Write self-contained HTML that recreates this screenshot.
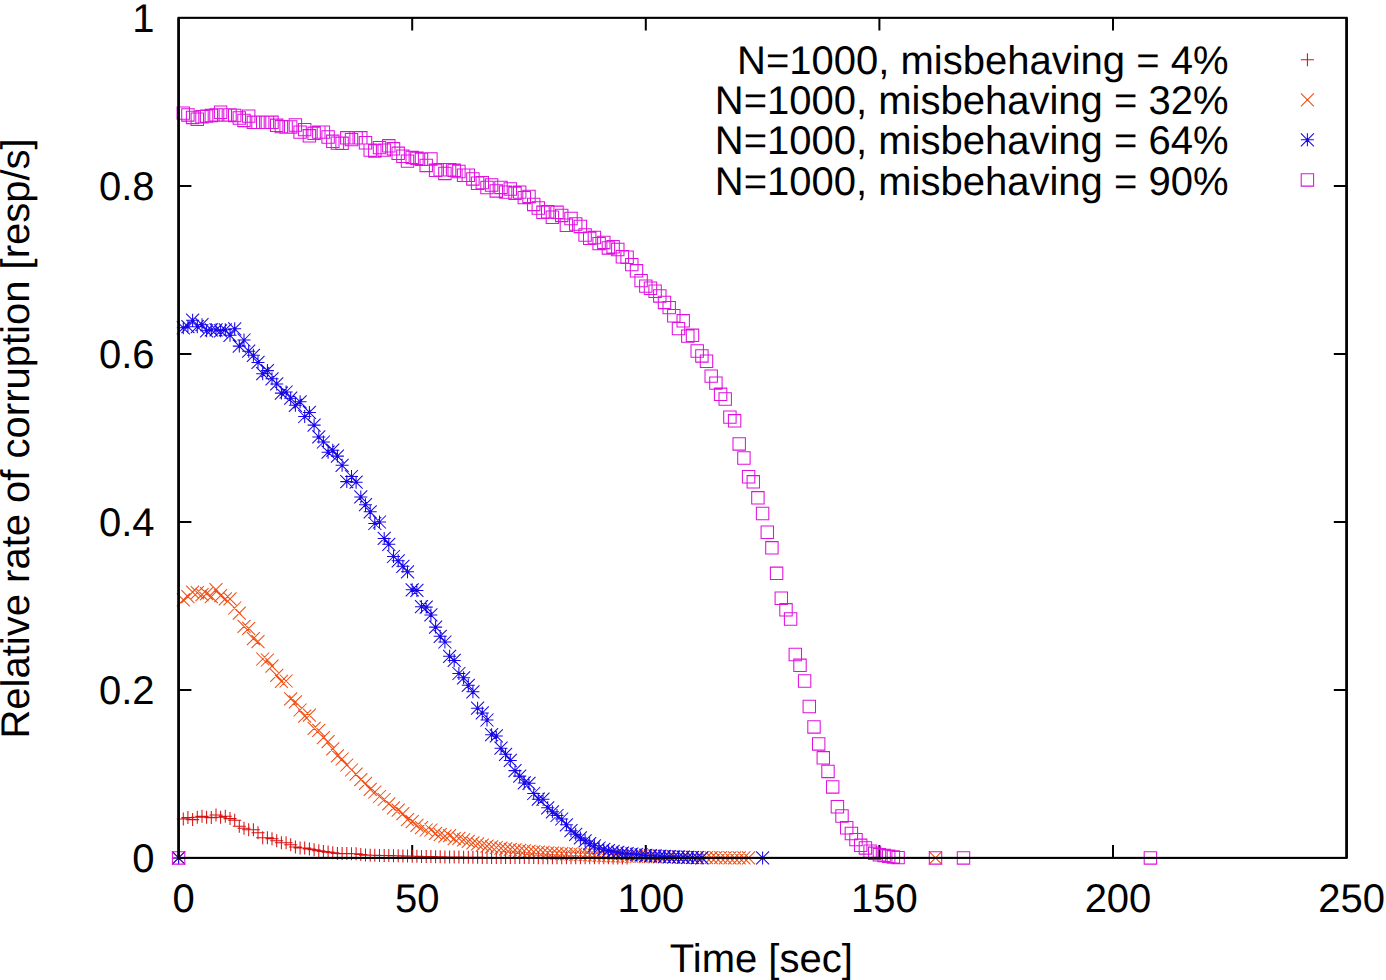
<!DOCTYPE html>
<html lang="en">
<head>
<meta charset="utf-8">
<title>Relative rate of corruption</title>
<style>
html,body{margin:0;padding:0;background:#fff;}
body{width:1386px;height:980px;overflow:hidden;}
svg{display:block;}
text{font-family:"Liberation Sans",sans-serif;font-size:40px;fill:#000;text-rendering:geometricPrecision;}
.m path{fill:none;stroke-width:1.05;stroke-linecap:butt;stroke-linejoin:miter;}
</style>
</head>
<body>
<svg width="1386" height="980" viewBox="0 0 1386 980">
<rect x="0" y="0" width="1386" height="980" fill="#fff"/>
<path d="M412.2 857.9V845.1M412.2 17.8V30.6M645.8 857.9V845.1M645.8 17.8V30.6M879.4 857.9V845.1M879.4 17.8V30.6M1113 857.9V845.1M1113 17.8V30.6M178.6 689.9H191.4M1346.6 689.9H1333.8M178.6 521.9H191.4M1346.6 521.9H1333.8M178.6 353.9H191.4M1346.6 353.9H1333.8M178.6 185.9H191.4M1346.6 185.9H1333.8" fill="none" stroke="#000" stroke-width="2.0"/>
<g class="m">
<path d="M1300.9 59.8H1313.9M1307.4 53.3V66.3M172.1 857.9H185.1M178.6 851.4V864.4M176.8 819H189.8M183.3 812.5V825.5M181.4 817.6H194.4M187.9 811.1V824.1M186.1 819.6H199.1M192.6 813.1V826.1M190.8 817.2H203.8M197.3 810.7V823.7M195.5 816.2H208.5M202 809.7V822.7M200.1 817.2H213.1M206.6 810.7V823.7M204.8 817.6H217.8M211.3 811.1V824.1M209.5 814.9H222.5M216 808.4V821.4M214.1 817.2H227.1M220.6 810.7V823.7M218.8 816.2H231.8M225.3 809.7V822.7M223.5 818.6H236.5M230 812.1V825.1M228.2 820.2H241.2M234.7 813.7V826.7M232.8 826.3H245.8M239.3 819.8V832.8M237.5 828.3H250.5M244 821.8V834.8M242.2 829.7H255.2M248.7 823.2V836.2M246.9 829.7H259.9M253.4 823.2V836.2M251.5 832.7H264.5M258 826.2V839.2M256.2 837.8H269.2M262.7 831.3V844.3M260.9 837.8H273.9M267.4 831.3V844.3M265.5 838.8H278.5M272 832.3V845.3M270.2 840.8H283.2M276.7 834.3V847.3M274.9 842.8H287.9M281.4 836.3V849.3M279.6 842.8H292.6M286.1 836.3V849.3M284.2 844.8H297.2M290.7 838.3V851.3M288.9 846.9H301.9M295.4 840.4V853.4M293.6 847.9H306.6M300.1 841.4V854.4M298.2 847.9H311.2M304.7 841.4V854.4M302.9 848.9H315.9M309.4 842.4V855.4M307.6 849.8H320.6M314.1 843.3V856.3M312.3 850.7H325.3M318.8 844.2V857.2M316.9 851.4H329.9M323.4 844.9V857.9M321.6 852.1H334.6M328.1 845.6V858.6M326.3 852.8H339.3M332.8 846.3V859.3M330.9 853.5H343.9M337.4 847V860M335.6 853.6H348.6M342.1 847.1V860.1M340.3 853.6H353.3M346.8 847.1V860.1M345 853.7H358M351.5 847.2V860.2M349.6 853.7H362.6M356.1 847.2V860.2M354.3 854.4H367.3M360.8 847.9V860.9M359 855.1H372M365.5 848.6V861.6M363.7 855.2H376.7M370.2 848.7V861.7M368.3 855.3H381.3M374.8 848.8V861.8M373 855.4H386M379.5 848.9V861.9M377.7 855.5H390.7M384.2 849V862M382.3 855.5H395.3M388.8 849V862M387 855.7H400M393.5 849.2V862.2M391.7 855.8H404.7M398.2 849.3V862.3M396.4 856H409.4M402.9 849.5V862.5M401 856.1H414M407.5 849.6V862.6M405.7 856.2H418.7M412.2 849.7V862.7M410.4 856.3H423.4M416.9 849.8V862.8M415 856.4H428M421.5 849.9V862.9M419.7 856.5H432.7M426.2 850V863M424.4 856.6H437.4M430.9 850.1V863.1M429.1 856.7H442.1M435.6 850.2V863.2M433.7 856.8H446.7M440.2 850.3V863.3M438.4 857H451.4M444.9 850.5V863.5M443.1 857.1H456.1M449.6 850.6V863.6M447.7 857.1H460.7M454.2 850.6V863.6M452.4 857.1H465.4M458.9 850.6V863.6M457.1 857.2H470.1M463.6 850.7V863.7M461.8 857.2H474.8M468.3 850.7V863.7M466.4 857.3H479.4M472.9 850.8V863.8M471.1 857.3H484.1M477.6 850.8V863.8M475.8 857.4H488.8M482.3 850.9V863.9M480.5 857.4H493.5M487 850.9V863.9M485.1 857.4H498.1M491.6 850.9V863.9M489.8 857.5H502.8M496.3 851V864M494.5 857.5H507.5M501 851V864M499.1 857.6H512.1M505.6 851.1V864.1M503.8 857.6H516.8M510.3 851.1V864.1M508.5 857.6H521.5M515 851.1V864.1M513.2 857.6H526.2M519.7 851.1V864.1M517.8 857.6H530.8M524.3 851.1V864.1M522.5 857.6H535.5M529 851.1V864.1M527.2 857.6H540.2M533.7 851.1V864.1M531.8 857.7H544.8M538.3 851.2V864.2M536.5 857.7H549.5M543 851.2V864.2M541.2 857.7H554.2M547.7 851.2V864.2M545.9 857.7H558.9M552.4 851.2V864.2M550.5 857.7H563.5M557 851.2V864.2M555.2 857.7H568.2M561.7 851.2V864.2M559.9 857.7H572.9M566.4 851.2V864.2M564.5 857.7H577.5M571 851.2V864.2M569.2 857.8H582.2M575.7 851.3V864.3M573.9 857.8H586.9M580.4 851.3V864.3M578.6 857.8H591.6M585.1 851.3V864.3M583.2 857.8H596.2M589.7 851.3V864.3M587.9 857.8H600.9M594.4 851.3V864.3M592.6 857.8H605.6M599.1 851.3V864.3M597.3 857.8H610.3M603.8 851.3V864.3M601.9 857.8H614.9M608.4 851.3V864.3M606.6 857.9H619.6M613.1 851.4V864.4M611.3 857.9H624.3M617.8 851.4V864.4M615.9 857.9H628.9M622.4 851.4V864.4M620.6 857.9H633.6M627.1 851.4V864.4" stroke="#d81010"/>
<path d="M1300.9 93.3L1313.9 106.3M1300.9 106.3L1313.9 93.3M172.1 851.4L185.1 864.4M172.1 864.4L185.1 851.4M176.8 593.3L189.8 606.3M176.8 606.3L189.8 593.3M181.4 590.2L194.4 603.2M181.4 603.2L194.4 590.2M186.1 585.7L199.1 598.7M186.1 598.7L199.1 585.7M190.8 586.2L203.8 599.2M190.8 599.2L203.8 586.2M195.5 588.2L208.5 601.2M195.5 601.2L208.5 588.2M200.1 587.2L213.1 600.2M200.1 600.2L213.1 587.2M204.8 590.2L217.8 603.2M204.8 603.2L217.8 590.2M209.5 583.1L222.5 596.1M209.5 596.1L222.5 583.1M214.1 589.2L227.1 602.2M214.1 602.2L227.1 589.2M218.8 592.3L231.8 605.3M218.8 605.3L231.8 592.3M223.5 592.3L236.5 605.3M223.5 605.3L236.5 592.3M228.2 601.5L241.2 614.5M228.2 614.5L241.2 601.5M232.8 606.6L245.8 619.6M232.8 619.6L245.8 606.6M237.5 619.8L250.5 632.8M237.5 632.8L250.5 619.8M242.2 621.9L255.2 634.9M242.2 634.9L255.2 621.9M246.9 632.1L259.9 645.1M246.9 645.1L259.9 632.1M251.5 635.1L264.5 648.1M251.5 648.1L264.5 635.1M256.2 652.5L269.2 665.5M256.2 665.5L269.2 652.5M260.9 653.5L273.9 666.5M260.9 666.5L273.9 653.5M265.5 659.6L278.5 672.6M265.5 672.6L278.5 659.6M270.2 668.8L283.2 681.8M270.2 681.8L283.2 668.8M274.9 674.9L287.9 687.9M274.9 687.9L287.9 674.9M279.6 674.5L292.6 687.5M279.6 687.5L292.6 674.5M284.2 692.3L297.2 705.3M284.2 705.3L297.2 692.3M288.9 695.3L301.9 708.3M288.9 708.3L301.9 695.3M293.6 703.5L306.6 716.5M293.6 716.5L306.6 703.5M298.2 709.6L311.2 722.6M298.2 722.6L311.2 709.6M302.9 708.6L315.9 721.6M302.9 721.6L315.9 708.6M307.6 721.9L320.6 734.9M307.6 734.9L320.6 721.9M312.3 723.9L325.3 736.9M312.3 736.9L325.3 723.9M316.9 731.1L329.9 744.1M316.9 744.1L329.9 731.1M321.6 735.1L334.6 748.1M321.6 748.1L334.6 735.1M326.3 742.3L339.3 755.3M326.3 755.3L339.3 742.3M330.9 749.4L343.9 762.4M330.9 762.4L343.9 749.4M335.6 752.5L348.6 765.5M335.6 765.5L348.6 752.5M340.3 758.5L353.3 771.5M340.3 771.5L353.3 758.5M345 763.5L358 776.5M345 776.5L358 763.5M349.6 767.6L362.6 780.6M349.6 780.6L362.6 767.6M354.3 773.1L367.3 786.1M354.3 786.1L367.3 773.1M359 776.9L372 789.9M359 789.9L372 776.9M363.7 782.8L376.7 795.8M363.7 795.8L376.7 782.8M368.3 785.5L381.3 798.5M368.3 798.5L381.3 785.5M373 790L386 803M373 803L386 790M377.7 793L390.7 806M377.7 806L390.7 793M382.3 797.3L395.3 810.3M382.3 810.3L395.3 797.3M387 801.3L400 814.3M387 814.3L400 801.3M391.7 803.6L404.7 816.6M391.7 816.6L404.7 803.6M396.4 807.2L409.4 820.2M396.4 820.2L409.4 807.2M401 813.2L414 826.2M401 826.2L414 813.2M405.7 815.1L418.7 828.1M405.7 828.1L418.7 815.1M410.4 818.9L423.4 831.9M410.4 831.9L423.4 818.9M415 821.2L428 834.2M415 834.2L428 821.2M419.7 823.5L432.7 836.5M419.7 836.5L432.7 823.5M424.4 823.5L437.4 836.5M424.4 836.5L437.4 823.5M429.1 826.8L442.1 839.8M429.1 839.8L442.1 826.8M433.7 828.2L446.7 841.2M433.7 841.2L446.7 828.2M438.4 829.6L451.4 842.6M438.4 842.6L451.4 829.6M443.1 829.2L456.1 842.2M443.1 842.2L456.1 829.2M447.7 832.1L460.7 845.1M447.7 845.1L460.7 832.1M452.4 831.9L465.4 844.9M452.4 844.9L465.4 831.9M457.1 833.4L470.1 846.4M457.1 846.4L470.1 833.4M461.8 834.8L474.8 847.8M461.8 847.8L474.8 834.8M466.4 836.3L479.4 849.3M466.4 849.3L479.4 836.3M471.1 837.4L484.1 850.4M471.1 850.4L484.1 837.4M475.8 838.6L488.8 851.6M475.8 851.6L488.8 838.6M480.5 839.7L493.5 852.7M480.5 852.7L493.5 839.7M485.1 840.4L498.1 853.4M485.1 853.4L498.1 840.4M489.8 841L502.8 854M489.8 854L502.8 841M494.5 841.7L507.5 854.7M494.5 854.7L507.5 841.7M499.1 842.3L512.1 855.3M499.1 855.3L512.1 842.3M503.8 842.8L516.8 855.8M503.8 855.8L516.8 842.8M508.5 843.4L521.5 856.4M508.5 856.4L521.5 843.4M513.2 843.9L526.2 856.9M513.2 856.9L526.2 843.9M517.8 844.4L530.8 857.4M517.8 857.4L530.8 844.4M522.5 844.9L535.5 857.9M522.5 857.9L535.5 844.9M527.2 845.3L540.2 858.3M527.2 858.3L540.2 845.3M531.8 845.6L544.8 858.6M531.8 858.6L544.8 845.6M536.5 845.9L549.5 858.9M536.5 858.9L549.5 845.9M541.2 846.3L554.2 859.3M541.2 859.3L554.2 846.3M545.9 846.6L558.9 859.6M545.9 859.6L558.9 846.6M550.5 846.8L563.5 859.8M550.5 859.8L563.5 846.8M555.2 847.1L568.2 860.1M555.2 860.1L568.2 847.1M559.9 847.3L572.9 860.3M559.9 860.3L572.9 847.3M564.5 847.5L577.5 860.5M564.5 860.5L577.5 847.5M569.2 847.7L582.2 860.7M569.2 860.7L582.2 847.7M573.9 848L586.9 861M573.9 861L586.9 848M578.6 848.2L591.6 861.2M578.6 861.2L591.6 848.2M583.2 848.4L596.2 861.4M583.2 861.4L596.2 848.4M587.9 848.7L600.9 861.7M587.9 861.7L600.9 848.7M592.6 848.9L605.6 861.9M592.6 861.9L605.6 848.9M597.3 849L610.3 862M597.3 862L610.3 849M601.9 849.1L614.9 862.1M601.9 862.1L614.9 849.1M606.6 849.3L619.6 862.3M606.6 862.3L619.6 849.3M611.3 849.4L624.3 862.4M611.3 862.4L624.3 849.4M615.9 849.5L628.9 862.5M615.9 862.5L628.9 849.5M620.6 849.6L633.6 862.6M620.6 862.6L633.6 849.6M625.3 849.8L638.3 862.8M625.3 862.8L638.3 849.8M630 849.9L643 862.9M630 862.9L643 849.9M634.6 850L647.6 863M634.6 863L647.6 850M639.3 850.1L652.3 863.1M639.3 863.1L652.3 850.1M644 850.2L657 863.2M644 863.2L657 850.2M648.6 850.3L661.6 863.3M648.6 863.3L661.6 850.3M653.3 850.4L666.3 863.4M653.3 863.4L666.3 850.4M658 850.5L671 863.5M658 863.5L671 850.5M662.7 850.6L675.7 863.6M662.7 863.6L675.7 850.6M667.3 850.6L680.3 863.6M667.3 863.6L680.3 850.6M672 850.7L685 863.7M672 863.7L685 850.7M676.7 850.8L689.7 863.8M676.7 863.8L689.7 850.8M681.3 850.9L694.3 863.9M681.3 863.9L694.3 850.9M686 851L699 864M686 864L699 851M690.7 851.1L703.7 864.1M690.7 864.1L703.7 851.1M695.4 851.1L708.4 864.1M695.4 864.1L708.4 851.1M700 851.2L713 864.2M700 864.2L713 851.2M704.7 851.2L717.7 864.2M704.7 864.2L717.7 851.2M709.4 851.2L722.4 864.2M709.4 864.2L722.4 851.2M714.1 851.2L727.1 864.2M714.1 864.2L727.1 851.2M718.7 851.3L731.7 864.3M718.7 864.3L731.7 851.3M723.4 851.3L736.4 864.3M723.4 864.3L736.4 851.3M728.1 851.3L741.1 864.3M728.1 864.3L741.1 851.3M732.7 851.3L745.7 864.3M732.7 864.3L745.7 851.3M737.4 851.4L750.4 864.4M737.4 864.4L750.4 851.4M742.1 851.4L755.1 864.4M742.1 864.4L755.1 851.4M929 851.4L942 864.4M929 864.4L942 851.4" stroke="#f04e14"/>
<path d="M1300.9 139.8H1313.9M1307.4 133.3V146.3M1300.9 133.3L1313.9 146.3M1300.9 146.3L1313.9 133.3M172.1 857.9H185.1M178.6 851.4V864.4M172.1 851.4L185.1 864.4M172.1 864.4L185.1 851.4M176.8 327.8H189.8M183.3 321.3V334.3M176.8 321.3L189.8 334.3M176.8 334.3L189.8 321.3M181.4 326.7H194.4M187.9 320.2V333.2M181.4 320.2L194.4 333.2M181.4 333.2L194.4 320.2M186.1 320.2H199.1M192.6 313.7V326.7M186.1 313.7L199.1 326.7M186.1 326.7L199.1 313.7M190.8 326.7H203.8M197.3 320.2V333.2M190.8 320.2L203.8 333.2M190.8 333.2L203.8 320.2M195.5 324.7H208.5M202 318.2V331.2M195.5 318.2L208.5 331.2M195.5 331.2L208.5 318.2M200.1 330.8H213.1M206.6 324.3V337.3M200.1 324.3L213.1 337.3M200.1 337.3L213.1 324.3M204.8 329.8H217.8M211.3 323.3V336.3M204.8 323.3L217.8 336.3M204.8 336.3L217.8 323.3M209.5 329.8H222.5M216 323.3V336.3M209.5 323.3L222.5 336.3M209.5 336.3L222.5 323.3M214.1 330.8H227.1M220.6 324.3V337.3M214.1 324.3L227.1 337.3M214.1 337.3L227.1 324.3M218.8 329.8H231.8M225.3 323.3V336.3M218.8 323.3L231.8 336.3M218.8 336.3L231.8 323.3M223.5 335.3H236.5M230 328.8V341.8M223.5 328.8L236.5 341.8M223.5 341.8L236.5 328.8M228.2 328.8H241.2M234.7 322.3V335.3M228.2 322.3L241.2 335.3M228.2 335.3L241.2 322.3M232.8 346.1H245.8M239.3 339.6V352.6M232.8 339.6L245.8 352.6M232.8 352.6L245.8 339.6M237.5 340H250.5M244 333.5V346.5M237.5 333.5L250.5 346.5M237.5 346.5L250.5 333.5M242.2 351.2H255.2M248.7 344.7V357.7M242.2 344.7L255.2 357.7M242.2 357.7L255.2 344.7M246.9 355.3H259.9M253.4 348.8V361.8M246.9 348.8L259.9 361.8M246.9 361.8L259.9 348.8M251.5 362.4H264.5M258 355.9V368.9M251.5 355.9L264.5 368.9M251.5 368.9L264.5 355.9M256.2 373.7H269.2M262.7 367.2V380.2M256.2 367.2L269.2 380.2M256.2 380.2L269.2 367.2M260.9 370.6H273.9M267.4 364.1V377.1M260.9 364.1L273.9 377.1M260.9 377.1L273.9 364.1M265.5 378.8H278.5M272 372.3V385.3M265.5 372.3L278.5 385.3M265.5 385.3L278.5 372.3M270.2 383.9H283.2M276.7 377.4V390.4M270.2 377.4L283.2 390.4M270.2 390.4L283.2 377.4M274.9 393.1H287.9M281.4 386.6V399.6M274.9 386.6L287.9 399.6M274.9 399.6L287.9 386.6M279.6 392H292.6M286.1 385.5V398.5M279.6 385.5L292.6 398.5M279.6 398.5L292.6 385.5M284.2 398.2H297.2M290.7 391.7V404.7M284.2 391.7L297.2 404.7M284.2 404.7L297.2 391.7M288.9 405.3H301.9M295.4 398.8V411.8M288.9 398.8L301.9 411.8M288.9 411.8L301.9 398.8M293.6 401.8H306.6M300.1 395.3V408.3M293.6 395.3L306.6 408.3M293.6 408.3L306.6 395.3M298.2 416.5H311.2M304.7 410V423M298.2 410L311.2 423M298.2 423L311.2 410M302.9 412.4H315.9M309.4 405.9V418.9M302.9 405.9L315.9 418.9M302.9 418.9L315.9 405.9M307.6 425.1H320.6M314.1 418.6V431.6M307.6 418.6L320.6 431.6M307.6 431.6L320.6 418.6M312.3 436.9H325.3M318.8 430.4V443.4M312.3 430.4L325.3 443.4M312.3 443.4L325.3 430.4M316.9 442H329.9M323.4 435.5V448.5M316.9 435.5L329.9 448.5M316.9 448.5L329.9 435.5M321.6 452.2H334.6M328.1 445.7V458.7M321.6 445.7L334.6 458.7M321.6 458.7L334.6 445.7M326.3 450.2H339.3M332.8 443.7V456.7M326.3 443.7L339.3 456.7M326.3 456.7L339.3 443.7M330.9 456.1H343.9M337.4 449.6V462.6M330.9 449.6L343.9 462.6M330.9 462.6L343.9 449.6M335.6 465.3H348.6M342.1 458.8V471.8M335.6 458.8L348.6 471.8M335.6 471.8L348.6 458.8M340.3 481.6H353.3M346.8 475.1V488.1M340.3 475.1L353.3 488.1M340.3 488.1L353.3 475.1M345 476.5H358M351.5 470V483M345 470L358 483M345 483L358 470M349.6 482.2H362.6M356.1 475.7V488.7M349.6 475.7L362.6 488.7M349.6 488.7L362.6 475.7M354.3 496.9H367.3M360.8 490.4V503.4M354.3 490.4L367.3 503.4M354.3 503.4L367.3 490.4M359 504.7H372M365.5 498.2V511.2M359 498.2L372 511.2M359 511.2L372 498.2M363.7 511.8H376.7M370.2 505.3V518.3M363.7 505.3L376.7 518.3M363.7 518.3L376.7 505.3M368.3 523.5H381.3M374.8 517V530M368.3 517L381.3 530M368.3 530L381.3 517M373 522H386M379.5 515.5V528.5M373 515.5L386 528.5M373 528.5L386 515.5M377.7 538.4H390.7M384.2 531.9V544.9M377.7 531.9L390.7 544.9M377.7 544.9L390.7 531.9M382.3 544.3H395.3M388.8 537.8V550.8M382.3 537.8L395.3 550.8M382.3 550.8L395.3 537.8M387 556.5H400M393.5 550V563M387 550L400 563M387 563L400 550M391.7 560.8H404.7M398.2 554.3V567.3M391.7 554.3L404.7 567.3M391.7 567.3L404.7 554.3M396.4 566.3H409.4M402.9 559.8V572.8M396.4 559.8L409.4 572.8M396.4 572.8L409.4 559.8M401 571.8H414M407.5 565.3V578.3M401 565.3L414 578.3M401 578.3L414 565.3M405.7 589.8H418.7M412.2 583.3V596.3M405.7 583.3L418.7 596.3M405.7 596.3L418.7 583.3M410.4 590.4H423.4M416.9 583.9V596.9M410.4 583.9L423.4 596.9M410.4 596.9L423.4 583.9M415 606.7H428M421.5 600.2V613.2M415 600.2L428 613.2M415 613.2L428 600.2M419.7 607.1H432.7M426.2 600.6V613.6M419.7 600.6L432.7 613.6M419.7 613.6L432.7 600.6M424.4 614.9H437.4M430.9 608.4V621.4M424.4 608.4L437.4 621.4M424.4 621.4L437.4 608.4M429.1 627.1H442.1M435.6 620.6V633.6M429.1 620.6L442.1 633.6M429.1 633.6L442.1 620.6M433.7 636.3H446.7M440.2 629.8V642.8M433.7 629.8L446.7 642.8M433.7 642.8L446.7 629.8M438.4 642H451.4M444.9 635.5V648.5M438.4 635.5L451.4 648.5M438.4 648.5L451.4 635.5M443.1 656.3H456.1M449.6 649.8V662.8M443.1 649.8L456.1 662.8M443.1 662.8L456.1 649.8M447.7 660.4H460.7M454.2 653.9V666.9M447.7 653.9L460.7 666.9M447.7 666.9L460.7 653.9M452.4 673.5H465.4M458.9 667V680M452.4 667L465.4 680M452.4 680L465.4 667M457.1 677.8H470.1M463.6 671.3V684.3M457.1 671.3L470.1 684.3M457.1 684.3L470.1 671.3M461.8 685.3H474.8M468.3 678.8V691.8M461.8 678.8L474.8 691.8M461.8 691.8L474.8 678.8M466.4 691.8H479.4M472.9 685.3V698.3M466.4 685.3L479.4 698.3M466.4 698.3L479.4 685.3M471.1 708.2H484.1M477.6 701.7V714.7M471.1 701.7L484.1 714.7M471.1 714.7L484.1 701.7M475.8 712.9H488.8M482.3 706.4V719.4M475.8 706.4L488.8 719.4M475.8 719.4L488.8 706.4M480.5 720H493.5M487 713.5V726.5M480.5 713.5L493.5 726.5M480.5 726.5L493.5 713.5M485.1 734.7H498.1M491.6 728.2V741.2M485.1 728.2L498.1 741.2M485.1 741.2L498.1 728.2M489.8 735.9H502.8M496.3 729.4V742.4M489.8 729.4L502.8 742.4M489.8 742.4L502.8 729.4M494.5 748.2H507.5M501 741.7V754.7M494.5 741.7L507.5 754.7M494.5 754.7L507.5 741.7M499.1 754.3H512.1M505.6 747.8V760.8M499.1 747.8L512.1 760.8M499.1 760.8L512.1 747.8M503.8 760.4H516.8M510.3 753.9V766.9M503.8 753.9L516.8 766.9M503.8 766.9L516.8 753.9M508.5 770.6H521.5M515 764.1V777.1M508.5 764.1L521.5 777.1M508.5 777.1L521.5 764.1M513.2 776.1H526.2M519.7 769.6V782.6M513.2 769.6L526.2 782.6M513.2 782.6L526.2 769.6M517.8 782.9H530.8M524.3 776.4V789.4M517.8 776.4L530.8 789.4M517.8 789.4L530.8 776.4M522.5 783.3H535.5M529 776.8V789.8M522.5 776.8L535.5 789.8M522.5 789.8L535.5 776.8M527.2 793.5H540.2M533.7 787V800M527.2 787L540.2 800M527.2 800L540.2 787M531.8 799.2H544.8M538.3 792.7V805.7M531.8 792.7L544.8 805.7M531.8 805.7L544.8 792.7M536.5 799.2H549.5M543 792.7V805.7M536.5 792.7L549.5 805.7M536.5 805.7L549.5 792.7M541.2 807.8H554.2M547.7 801.3V814.3M541.2 801.3L554.2 814.3M541.2 814.3L554.2 801.3M545.9 811.8H558.9M552.4 805.3V818.3M545.9 805.3L558.9 818.3M545.9 818.3L558.9 805.3M550.5 815.5H563.5M557 809V822M550.5 809L563.5 822M550.5 822L563.5 809M555.2 819H568.2M561.7 812.5V825.5M555.2 812.5L568.2 825.5M555.2 825.5L568.2 812.5M559.9 824.8H572.9M566.4 818.3V831.3M559.9 818.3L572.9 831.3M559.9 831.3L572.9 818.3M564.5 830.7H577.5M571 824.2V837.2M564.5 824.2L577.5 837.2M564.5 837.2L577.5 824.2M569.2 834.3H582.2M575.7 827.8V840.8M569.2 827.8L582.2 840.8M569.2 840.8L582.2 827.8M573.9 837.9H586.9M580.4 831.4V844.4M573.9 831.4L586.9 844.4M573.9 844.4L586.9 831.4M578.6 840.8H591.6M585.1 834.3V847.3M578.6 834.3L591.6 847.3M578.6 847.3L591.6 834.3M583.2 843.7H596.2M589.7 837.2V850.2M583.2 837.2L596.2 850.2M583.2 850.2L596.2 837.2M587.9 845.8H600.9M594.4 839.3V852.3M587.9 839.3L600.9 852.3M587.9 852.3L600.9 839.3M592.6 848H605.6M599.1 841.5V854.5M592.6 841.5L605.6 854.5M592.6 854.5L605.6 841.5M597.3 849.3H610.3M603.8 842.8V855.8M597.3 842.8L610.3 855.8M597.3 855.8L610.3 842.8M601.9 850.6H614.9M608.4 844.1V857.1M601.9 844.1L614.9 857.1M601.9 857.1L614.9 844.1M606.6 851.4H619.6M613.1 844.9V857.9M606.6 844.9L619.6 857.9M606.6 857.9L619.6 844.9M611.3 852.3H624.3M617.8 845.8V858.8M611.3 845.8L624.3 858.8M611.3 858.8L624.3 845.8M615.9 853.1H628.9M622.4 846.6V859.6M615.9 846.6L628.9 859.6M615.9 859.6L628.9 846.6M620.6 853.6H633.6M627.1 847.1V860.1M620.6 847.1L633.6 860.1M620.6 860.1L633.6 847.1M625.3 854H638.3M631.8 847.5V860.5M625.3 847.5L638.3 860.5M625.3 860.5L638.3 847.5M630 854.5H643M636.5 848V861M630 848L643 861M630 861L643 848M634.6 854.9H647.6M641.1 848.4V861.4M634.6 848.4L647.6 861.4M634.6 861.4L647.6 848.4M639.3 855.4H652.3M645.8 848.9V861.9M639.3 848.9L652.3 861.9M639.3 861.9L652.3 848.9M644 855.6H657M650.5 849.1V862.1M644 849.1L657 862.1M644 862.1L657 849.1M648.6 855.9H661.6M655.1 849.4V862.4M648.6 849.4L661.6 862.4M648.6 862.4L661.6 849.4M653.3 856.1H666.3M659.8 849.6V862.6M653.3 849.6L666.3 862.6M653.3 862.6L666.3 849.6M658 856.4H671M664.5 849.9V862.9M658 849.9L671 862.9M658 862.9L671 849.9M662.7 856.6H675.7M669.2 850.1V863.1M662.7 850.1L675.7 863.1M662.7 863.1L675.7 850.1M667.3 856.8H680.3M673.8 850.3V863.3M667.3 850.3L680.3 863.3M667.3 863.3L680.3 850.3M672 857H685M678.5 850.5V863.5M672 850.5L685 863.5M672 863.5L685 850.5M676.7 857.1H689.7M683.2 850.6V863.6M676.7 850.6L689.7 863.6M676.7 863.6L689.7 850.6M681.3 857.3H694.3M687.8 850.8V863.8M681.3 850.8L694.3 863.8M681.3 863.8L694.3 850.8M686 857.5H699M692.5 851V864M686 851L699 864M686 864L699 851M690.7 857.7H703.7M697.2 851.2V864.2M690.7 851.2L703.7 864.2M690.7 864.2L703.7 851.2M695.4 857.9H708.4M701.9 851.4V864.4M695.4 851.4L708.4 864.4M695.4 864.4L708.4 851.4M756.1 857.9H769.1M762.6 851.4V864.4M756.1 851.4L769.1 864.4M756.1 864.4L769.1 851.4" stroke="#1808e8"/>
<path d="M1301.2 173.7H1313.6V186.1H1301.2ZM172.4 851.7H184.8V864.1H172.4ZM177.1 106.9H189.5V119.3H177.1ZM181.7 108.7H194.1V121.1H181.7ZM186.4 111.2H198.8V123.6H186.4ZM191.1 113H203.5V125.4H191.1ZM195.8 110.5H208.2V122.9H195.8ZM200.4 109.9H212.8V122.3H200.4ZM205.1 109.3H217.5V121.7H205.1ZM209.8 108.7H222.2V121.1H209.8ZM214.4 106H226.8V118.4H214.4ZM219.1 108.7H231.5V121.1H219.1ZM223.8 108.7H236.2V121.1H223.8ZM228.5 109.3H240.9V121.7H228.5ZM233.1 111.8H245.5V124.2H233.1ZM237.8 114.2H250.2V126.6H237.8ZM242.5 109.9H254.9V122.3H242.5ZM247.2 116.1H259.6V128.5H247.2ZM251.8 116.1H264.2V128.5H251.8ZM256.5 116.1H268.9V128.5H256.5ZM261.2 116.1H273.6V128.5H261.2ZM265.8 116.1H278.2V128.5H265.8ZM270.5 119.1H282.9V131.5H270.5ZM275.2 120.4H287.6V132.8H275.2ZM279.9 120.7H292.3V133.1H279.9ZM284.5 120.7H296.9V133.1H284.5ZM289.2 118.8H301.6V131.2H289.2ZM293.9 125.9H306.3V138.3H293.9ZM298.5 123.4H310.9V135.8H298.5ZM303.2 129.6H315.6V142H303.2ZM307.9 127.1H320.3V139.5H307.9ZM312.6 125.9H325V138.3H312.6ZM317.2 125.9H329.6V138.3H317.2ZM321.9 130.8H334.3V143.2H321.9ZM326.6 135.1H339V147.5H326.6ZM331.2 136.9H343.6V149.3H331.2ZM335.9 137.1H348.3V149.5H335.9ZM340.6 131.6H353V144H340.6ZM345.3 133.4H357.7V145.8H345.3ZM349.9 131.6H362.3V144H349.9ZM354.6 131.6H367V144H354.6ZM359.3 136.5H371.7V148.9H359.3ZM364 143.9H376.4V156.3H364ZM368.6 144.8H381V157.2H368.6ZM373.3 141.4H385.7V153.8H373.3ZM378 143.9H390.4V156.3H378ZM382.6 139.6H395V152H382.6ZM387.3 142.6H399.7V155H387.3ZM392 147.1H404.4V159.5H392ZM396.7 150H409.1V162.4H396.7ZM401.3 154.9H413.7V167.3H401.3ZM406 151.2H418.4V163.6H406ZM410.7 152.1H423.1V164.5H410.7ZM415.3 153.1H427.7V165.5H415.3ZM420 159.2H432.4V171.6H420ZM424.7 152.8H437.1V165.2H424.7ZM429.4 164.1H441.8V176.5H429.4ZM434 163.5H446.4V175.9H434ZM438.7 167.2H451.1V179.6H438.7ZM443.4 163.5H455.8V175.9H443.4ZM448 164.1H460.4V176.5H448ZM452.7 165.3H465.1V177.7H452.7ZM457.4 169H469.8V181.4H457.4ZM462.1 169H474.5V181.4H462.1ZM466.7 172.7H479.1V185.1H466.7ZM471.4 177H483.8V189.4H471.4ZM476.1 176.4H488.5V188.8H476.1ZM480.8 181.3H493.2V193.7H480.8ZM485.4 178.8H497.8V191.2H485.4ZM490.1 184.7H502.5V197.1H490.1ZM494.8 181.2H507.2V193.6H494.8ZM499.4 185.9H511.8V198.3H499.4ZM504.1 182.8H516.5V195.2H504.1ZM508.8 187.1H521.2V199.5H508.8ZM513.5 185.9H525.9V198.3H513.5ZM518.1 191.4H530.5V203.8H518.1ZM522.8 190.2H535.2V202.6H522.8ZM527.5 198.2H539.9V210.6H527.5ZM532.1 201.8H544.5V214.2H532.1ZM536.8 206.1H549.2V218.5H536.8ZM541.5 205.5H553.9V217.9H541.5ZM546.2 211H558.6V223.4H546.2ZM550.8 206.1H563.2V218.5H550.8ZM555.5 209.2H567.9V221.6H555.5ZM560.2 219H572.6V231.4H560.2ZM564.8 212.3H577.2V224.7H564.8ZM569.5 217.8H581.9V230.2H569.5ZM574.2 220.2H586.6V232.6H574.2ZM578.9 228.8H591.3V241.2H578.9ZM583.5 232.1H595.9V244.5H583.5ZM588.2 231.3H600.6V243.7H588.2ZM592.9 237.4H605.3V249.8H592.9ZM597.6 236.2H610V248.6H597.6ZM602.2 241.7H614.6V254.1H602.2ZM606.9 240.5H619.3V252.9H606.9ZM611.6 243.3H624V255.7H611.6ZM616.2 250.5H628.6V262.9H616.2ZM620.9 251H633.3V263.4H620.9ZM625.6 258.4H638V270.8H625.6ZM630.3 264.6H642.7V277H630.3ZM634.9 274.4H647.3V286.8H634.9ZM639.6 279.9H652V292.3H639.6ZM644.3 282H656.7V294.4H644.3ZM648.9 285H661.3V297.4H648.9ZM653.6 289.7H666V302.1H653.6ZM658.3 296.2H670.7V308.6H658.3ZM663 301.4H675.4V313.8H663ZM667.6 309.5H680V321.9H667.6ZM672.3 322.4H684.7V334.8H672.3ZM677 314.6H689.4V327H677ZM681.6 329.9H694V342.3H681.6ZM686.3 329.1H698.7V341.5H686.3ZM691 344.8H703.4V357.2H691ZM695.7 349.7H708.1V362.1H695.7ZM700.3 355H712.7V367.4H700.3ZM705 369.9H717.4V382.3H705ZM709.7 376.9H722.1V389.3H709.7ZM714.4 388.1H726.8V400.5H714.4ZM719 392.8H731.4V405.2H719ZM723.7 410.9H736.1V423.3H723.7ZM728.4 414.6H740.8V427H728.4ZM733 437.7H745.4V450.1H733ZM737.7 451.8H750.1V464.2H737.7ZM742.4 470.5H754.8V482.9H742.4ZM747.1 475.6H759.5V488H747.1ZM751.7 491.6H764.1V504H751.7ZM756.4 507.3H768.8V519.7H756.4ZM761.1 526H773.5V538.4H761.1ZM765.7 541.6H778.1V554H765.7ZM770.4 567.1H782.8V579.5H770.4ZM775.1 592H787.5V604.4H775.1ZM779.8 603.6H792.2V616H779.8ZM784.4 612.8H796.8V625.2H784.4ZM789.1 648.3H801.5V660.7H789.1ZM793.8 659.1H806.2V671.5H793.8ZM798.4 674.8H810.8V687.2H798.4ZM803.1 700.3H815.5V712.7H803.1ZM807.8 720.7H820.2V733.1H807.8ZM812.5 737.7H824.9V750.1H812.5ZM817.1 751.6H829.5V764H817.1ZM821.8 765.2H834.2V777.6H821.8ZM826.5 780.7H838.9V793.1H826.5ZM831.2 800.5H843.6V812.9H831.2ZM835.8 809.8H848.2V822.2H835.8ZM840.5 821.5H852.9V833.9H840.5ZM845.2 827.3H857.6V839.7H845.2ZM849.8 833.4H862.2V845.8H849.8ZM854.5 839.1H866.9V851.5H854.5ZM859.2 841.7H871.6V854.1H859.2ZM863.9 844.9H876.3V857.3H863.9ZM868.5 847.1H880.9V859.5H868.5ZM873.2 848.5H885.6V860.9H873.2ZM877.9 849.2H890.3V861.6H877.9ZM882.5 850H894.9V862.4H882.5ZM887.2 850.7H899.6V863.1H887.2ZM891.9 851.4H904.3V863.8H891.9ZM929.3 851.7H941.7V864.1H929.3ZM957.3 851.7H969.7V864.1H957.3ZM1144.2 851.7H1156.6V864.1H1144.2Z" stroke="#e010e0"/>
</g>
<rect x="178.6" y="17.84" width="1168.00" height="840.06" fill="none" stroke="#000" stroke-width="2.1"/>
<path d="M178.6 17.84V857.9M1346.6 17.84V857.9" fill="none" stroke="#000" stroke-width="2.5"/>
<g><text x="183.6" y="912.3" text-anchor="middle">0</text><text x="417.2" y="912.3" text-anchor="middle">50</text><text x="650.8" y="912.3" text-anchor="middle">100</text><text x="884.4" y="912.3" text-anchor="middle">150</text><text x="1118" y="912.3" text-anchor="middle">200</text><text x="1351.6" y="912.3" text-anchor="middle">250</text></g>
<g><text x="154.6" y="872.3" text-anchor="end">0</text><text x="154.6" y="704.3" text-anchor="end">0.2</text><text x="154.6" y="536.3" text-anchor="end">0.4</text><text x="154.6" y="368.3" text-anchor="end">0.6</text><text x="154.6" y="200.3" text-anchor="end">0.8</text><text x="154.6" y="32.2" text-anchor="end">1</text></g>
<g><text x="1228.5" y="74.4" text-anchor="end">N=1000, misbehaving = 4%</text><text x="1228.5" y="114.4" text-anchor="end">N=1000, misbehaving = 32%</text><text x="1228.5" y="154.4" text-anchor="end">N=1000, misbehaving = 64%</text><text x="1228.5" y="194.5" text-anchor="end">N=1000, misbehaving = 90%</text></g>
<text x="761.3" y="971.9" text-anchor="middle">Time [sec]</text>
<text transform="translate(28.6 438.4) rotate(-90)" text-anchor="middle">Relative rate of corruption [resp/s]</text>
</svg>
</body>
</html>
